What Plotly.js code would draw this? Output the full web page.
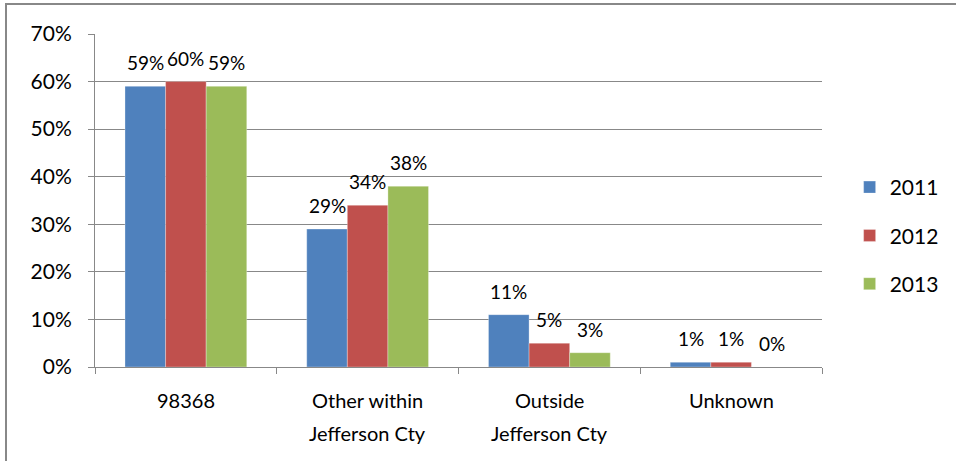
<!DOCTYPE html>
<html>
<head>
<meta charset="utf-8">
<script src="https://cdn.plot.ly/plotly-3.0.1.min.js"></script>
<style>
  html, body { margin: 0; padding: 0; background: #fff; overflow: hidden; }
  #frame { position: absolute; left: 5px; top: 3px; width: 1000px; height: 500px; border-left: 2px solid #888; border-top: 2px solid #888; }
  #chart { position: absolute; left: 0; top: 0; width: 956px; height: 461px; }
</style>
</head>
<body>
<div id="frame"></div>
<div id="chart"></div>
<script>
const categories = ["98368", "Other within Jefferson Cty", "Outside Jefferson Cty", "Unknown"];
const labelLine1 = ["98368", "Other within", "Outside", "Unknown"];
const labelLine2 = ["", "Jefferson Cty", "Jefferson Cty", ""];
const seriesNames = ["2011", "2012", "2013"];
const values2011 = [59, 29, 11, 1];
const values2012 = [60, 34, 5, 1];
const values2013 = [59, 38, 3, 0];
const yTickVals = [0, 10, 20, 30, 40, 50, 60, 70];
const yTickText = ["0%", "10%", "20%", "30%", "40%", "50%", "60%", "70%"];
const colors = ["#4F81BD", "#C0504D", "#9BBB59"];

const font = "Lato, 'Noto Sans', sans-serif";
const bargap = 0.33;
const allValues = [values2011, values2012, values2013];
const traces = allValues.map((vals, i) => ({
  type: "bar",
  name: seriesNames[i],
  legendgroup: "g" + i,
  x: categories,
  y: vals,
  marker: { color: colors[i], line: { color: "rgba(255,255,255,0.6)", width: 0.5 } },
  cliponaxis: false,
  hoverinfo: "skip"
}));

const annotations = [];
categories.forEach((c, i) => {
  annotations.push({ x: i, xref: "x", y: 0, yref: "paper", yanchor: "middle", yshift: -33,
    text: labelLine1[i], showarrow: false, font: { family: font, size: 20, color: "#000" } });
  if (labelLine2[i]) {
    annotations.push({ x: i, xref: "x", y: 0, yref: "paper", yanchor: "middle", yshift: -66,
      text: labelLine2[i], showarrow: false, font: { family: font, size: 20, color: "#000" } });
  }
});
// value labels above each bar
const nSeries = allValues.length;
const barW = (1 - bargap) / nSeries;
allValues.forEach((vals, j) => {
  vals.forEach((v, i) => {
    annotations.push({ x: i + (j - (nSeries - 1) / 2) * barW, xref: "x", y: v, yref: "y",
      yanchor: "bottom", yshift: 10, text: v + "%", showarrow: false,
      font: { family: font, size: 19, color: "#000" } });
  });
});

const layout = {
  width: 956,
  height: 461,
  margin: { l: 95, r: 134, t: 34, b: 94, autoexpand: false },
  paper_bgcolor: "rgba(0,0,0,0)",
  plot_bgcolor: "rgba(0,0,0,0)",
  barmode: "group",
  bargap: bargap,
  bargroupgap: 0,
  font: { family: font, size: 20, color: "#000" },
  xaxis: {
    type: "category",
    categoryorder: "array",
    categoryarray: categories,
    range: [-0.5, 3.5],
    showgrid: false,
    showline: true,
    linecolor: "#888",
    linewidth: 1,
    ticks: "outside",
    tickson: "boundaries",
    ticklen: 6,
    tickcolor: "#888",
    showticklabels: false,
    fixedrange: true
  },
  yaxis: {
    range: [0, 70],
    tickvals: yTickVals,
    ticktext: yTickText,
    showgrid: true,
    gridcolor: "#888",
    gridwidth: 1,
    showline: true,
    linecolor: "#888",
    ticks: "outside",
    ticklen: 6,
    tickcolor: "#888",
    ticklabelstandoff: 12,
    zeroline: false,
    tickfont: { family: font, size: 21, color: "#000" },
    fixedrange: true
  },
  annotations: annotations,
  legend: {
    x: 1.038,
    xanchor: "left",
    y: 0.395,
    yanchor: "middle",
    font: { family: font, size: 21, color: "#000" },
    tracegroupgap: 18,
    itemwidth: 30
  },
  showlegend: true
};

Plotly.newPlot("chart", traces, layout, { displayModeBar: false, staticPlot: true });
</script>
</body>
</html>
